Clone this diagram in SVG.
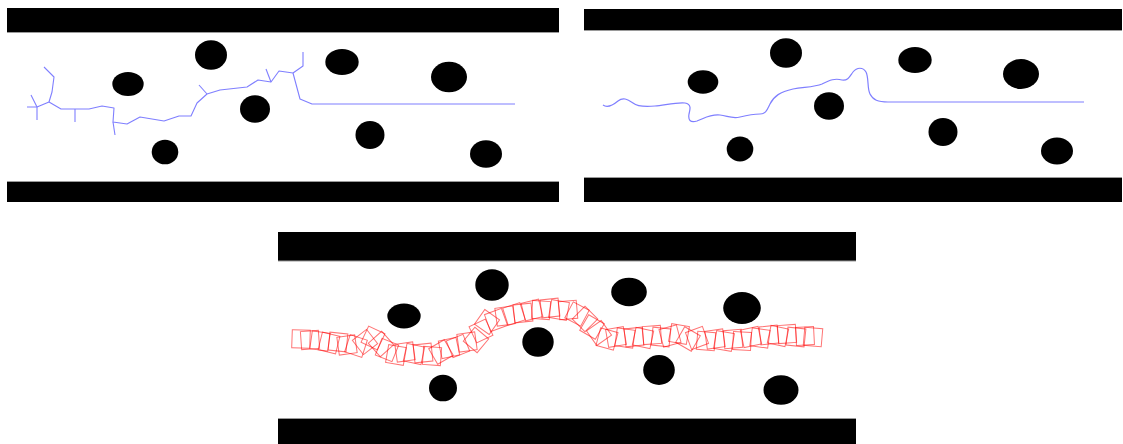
<svg xmlns="http://www.w3.org/2000/svg" xmlns:xlink="http://www.w3.org/1999/xlink" width="1123" height="444" viewBox="0 0 1123 444">
<style>
.bar{fill:#000}
.edge{stroke:#9a9a9a;stroke-width:1;fill:none}
.obs{fill:#000}
.tree{fill:none;stroke:#7f7fff;stroke-width:1.1;stroke-linejoin:round}
.curve{fill:none;stroke:#7f7fff;stroke-width:1.2}
.sq{fill:none;stroke:#ff0000;stroke-opacity:0.55;stroke-width:1}
</style>
<defs>
<rect id="sq" class="sq" x="-9" y="-9" width="18" height="18"/>
</defs>
<rect width="1123" height="444" fill="#fff"/>

<g id="panel1">
<rect class="bar" x="7" y="8" width="552" height="24"/>
<rect class="bar" x="7" y="182" width="552" height="20"/>
<line class="edge" x1="7" y1="32.5" x2="559" y2="32.5"/>
<line class="edge" x1="7" y1="181.5" x2="559" y2="181.5"/>
<g id="p1-obstacles">
<ellipse class="obs" cx="211" cy="55" rx="16" ry="14.7"/>
<ellipse class="obs" cx="128" cy="84" rx="15.7" ry="12"/>
<ellipse class="obs" cx="255" cy="109" rx="15" ry="13.7"/>
<ellipse class="obs" cx="165" cy="152" rx="13.3" ry="12.3"/>
<ellipse class="obs" cx="342" cy="62" rx="16.7" ry="13"/>
<ellipse class="obs" cx="449" cy="77" rx="18" ry="15.3"/>
<ellipse class="obs" cx="370" cy="135" rx="14.5" ry="14"/>
<ellipse class="obs" cx="486" cy="154" rx="16" ry="13.7"/>
</g>
<g id="p1-tree">
<polyline class="tree" points="27,107 37,107 49,102 61,109 75,109 89,109 102,106 114,108 113,122 127,124 140,117 164,121 179,116 191,116 197,103 207,94 220,90 247,87 258,80 271,82 279,71 293,73 300,99 312,104 515,104"/>
<polyline class="tree" points="31,95 37,107 37,120"/>
<polyline class="tree" points="49,102 52,92 54,77 44,67"/>
<polyline class="tree" points="75,109 75,122"/>
<polyline class="tree" points="113,122 115,135"/>
<polyline class="tree" points="207,94 199,85"/>
<polyline class="tree" points="271,82 266,69"/>
<polyline class="tree" points="293,73 303,66 303,52"/>
</g>
</g>

<g id="panel2">
<rect class="bar" x="584" y="9" width="538" height="21"/>
<rect class="bar" x="584" y="178" width="538" height="24"/>
<line class="edge" x1="584" y1="30.5" x2="1122" y2="30.5"/>
<line class="edge" x1="584" y1="177.5" x2="1122" y2="177.5"/>
<g id="p2-obstacles">
<ellipse class="obs" cx="786" cy="53" rx="16" ry="14.7"/>
<ellipse class="obs" cx="703" cy="82" rx="15.3" ry="11.7"/>
<ellipse class="obs" cx="829" cy="106" rx="15" ry="13.8"/>
<ellipse class="obs" cx="740" cy="149" rx="13.3" ry="12.5"/>
<ellipse class="obs" cx="915" cy="60" rx="16.7" ry="13"/>
<ellipse class="obs" cx="1021" cy="74" rx="18" ry="15"/>
<ellipse class="obs" cx="943" cy="132" rx="14.5" ry="14"/>
<ellipse class="obs" cx="1057" cy="151" rx="16" ry="13.5"/>
</g>
<path id="p2-curve" class="curve" d="M603,105 C607,108 612,106 618,101 C623,97 627,99 633,103 C638,107 645,107 655,106 C665,105 678,102 685,103 C692,104 690,110 689,114 C688,120 690,123 697,121 C705,118 710,114 720,115 C728,116 732,119 740,117 C748,115 752,114 760,114 C766,114 767,110 770,104 C774,96 780,92 793,89 C805,87 815,87 822,84 C830,80 835,78 842,80 C848,81 850,76 853,72 C857,67 863,67 866,72 C869,78 867,88 870,94 C873,100 878,102 888,102 L1084,102"/>
</g>

<g id="panel3">
<rect class="bar" x="278" y="232" width="578" height="29"/>
<rect class="bar" x="278" y="419" width="578" height="25"/>
<line class="edge" x1="278" y1="261" x2="856" y2="261"/>
<line class="edge" x1="278" y1="418.5" x2="856" y2="418.5"/>
<g id="p3-obstacles">
<ellipse class="obs" cx="492" cy="285" rx="16.7" ry="15.8"/>
<ellipse class="obs" cx="404" cy="316" rx="16.7" ry="12.5"/>
<ellipse class="obs" cx="538" cy="342" rx="15.7" ry="14.7"/>
<ellipse class="obs" cx="443" cy="388" rx="14" ry="13.3"/>
<ellipse class="obs" cx="629" cy="292" rx="17.8" ry="14.2"/>
<ellipse class="obs" cx="742" cy="308" rx="18.8" ry="16"/>
<ellipse class="obs" cx="659" cy="370" rx="15.8" ry="15"/>
<ellipse class="obs" cx="781" cy="390" rx="17.5" ry="14.7"/>
</g>
<g id="p3-chain">
<use xlink:href="#sq" transform="translate(301,339) rotate(2)"/>
<use xlink:href="#sq" transform="translate(310,340) rotate(-4)"/>
<use xlink:href="#sq" transform="translate(320,341) rotate(8)"/>
<use xlink:href="#sq" transform="translate(329,343) rotate(14)"/>
<use xlink:href="#sq" transform="translate(338,342) rotate(6)"/>
<use xlink:href="#sq" transform="translate(347,345) rotate(-8)"/>
<use xlink:href="#sq" transform="translate(356,346) rotate(18)"/>
<use xlink:href="#sq" transform="translate(365,342) rotate(-38)"/>
<use xlink:href="#sq" transform="translate(373,338) rotate(25)"/>
<use xlink:href="#sq" transform="translate(381,344) rotate(48)"/>
<use xlink:href="#sq" transform="translate(387,350) rotate(22)"/>
<use xlink:href="#sq" transform="translate(396,355) rotate(10)"/>
<use xlink:href="#sq" transform="translate(405,352) rotate(-8)"/>
<use xlink:href="#sq" transform="translate(414,354) rotate(12)"/>
<use xlink:href="#sq" transform="translate(423,353) rotate(-6)"/>
<use xlink:href="#sq" transform="translate(432,356) rotate(4)"/>
<use xlink:href="#sq" transform="translate(441,352) rotate(-30)"/>
<use xlink:href="#sq" transform="translate(449,348) rotate(-12)"/>
<use xlink:href="#sq" transform="translate(458,346) rotate(-22)"/>
<use xlink:href="#sq" transform="translate(467,342) rotate(-8)"/>
<use xlink:href="#sq" transform="translate(476,340) rotate(-50)"/>
<use xlink:href="#sq" transform="translate(481,331) rotate(-25)"/>
<use xlink:href="#sq" transform="translate(487,322) rotate(35)"/>
<use xlink:href="#sq" transform="translate(496,320) rotate(-20)"/>
<use xlink:href="#sq" transform="translate(505,316) rotate(-8)"/>
<use xlink:href="#sq" transform="translate(514,314) rotate(-18)"/>
<use xlink:href="#sq" transform="translate(523,313) rotate(-6)"/>
<use xlink:href="#sq" transform="translate(532,310) rotate(-14)"/>
<use xlink:href="#sq" transform="translate(541,310) rotate(4)"/>
<use xlink:href="#sq" transform="translate(550,308) rotate(-6)"/>
<use xlink:href="#sq" transform="translate(559,310) rotate(10)"/>
<use xlink:href="#sq" transform="translate(568,310) rotate(-5)"/>
<use xlink:href="#sq" transform="translate(577,314) rotate(28)"/>
<use xlink:href="#sq" transform="translate(585,319) rotate(45)"/>
<use xlink:href="#sq" transform="translate(592,327) rotate(30)"/>
<use xlink:href="#sq" transform="translate(599,333) rotate(55)"/>
<use xlink:href="#sq" transform="translate(607,339) rotate(15)"/>
<use xlink:href="#sq" transform="translate(616,337) rotate(-10)"/>
<use xlink:href="#sq" transform="translate(625,338) rotate(8)"/>
<use xlink:href="#sq" transform="translate(634,337) rotate(-6)"/>
<use xlink:href="#sq" transform="translate(643,338) rotate(12)"/>
<use xlink:href="#sq" transform="translate(652,335) rotate(-4)"/>
<use xlink:href="#sq" transform="translate(661,337) rotate(6)"/>
<use xlink:href="#sq" transform="translate(670,336) rotate(-15)"/>
<use xlink:href="#sq" transform="translate(679,334) rotate(10)"/>
<use xlink:href="#sq" transform="translate(688,339) rotate(30)"/>
<use xlink:href="#sq" transform="translate(697,338) rotate(-20)"/>
<use xlink:href="#sq" transform="translate(706,341) rotate(5)"/>
<use xlink:href="#sq" transform="translate(715,339) rotate(-8)"/>
<use xlink:href="#sq" transform="translate(724,341) rotate(10)"/>
<use xlink:href="#sq" transform="translate(733,339) rotate(-5)"/>
<use xlink:href="#sq" transform="translate(742,341) rotate(3)"/>
<use xlink:href="#sq" transform="translate(751,337) rotate(-12)"/>
<use xlink:href="#sq" transform="translate(760,338) rotate(8)"/>
<use xlink:href="#sq" transform="translate(769,335) rotate(-6)"/>
<use xlink:href="#sq" transform="translate(778,336) rotate(12)"/>
<use xlink:href="#sq" transform="translate(787,334) rotate(-4)"/>
<use xlink:href="#sq" transform="translate(796,337) rotate(6)"/>
<use xlink:href="#sq" transform="translate(805,336) rotate(-3)"/>
<use xlink:href="#sq" transform="translate(813,337) rotate(5)"/>
</g>
</g>
</svg>
